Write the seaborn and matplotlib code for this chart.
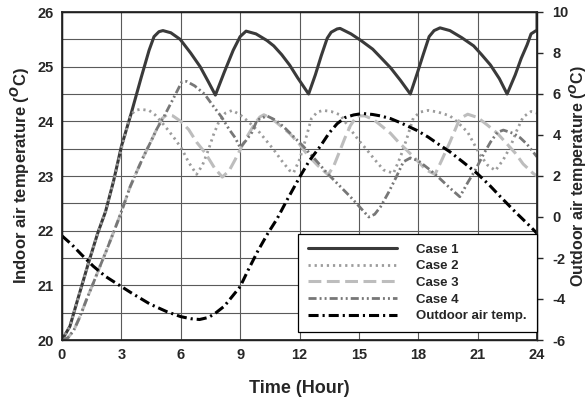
import numpy as np
import pandas as pd
import matplotlib
matplotlib.use("Agg")
import matplotlib.pyplot as plt
import seaborn as sns

# hours / indoor temperature (left axis)
t_case1 = [0, 0.4, 0.8, 1.33, 1.8, 2.2, 2.6, 3.0, 3.5, 4.0, 4.4, 4.65, 4.9, 5.1, 5.5,
           5.97, 6.5, 6.98, 7.4, 7.75, 8.2, 8.65, 9.0, 9.3, 9.8, 10.35, 10.7, 11.1, 11.5,
           11.9, 12.46, 12.8, 13.1, 13.4, 13.6, 13.9, 14.05, 14.6, 15.1, 15.7, 16.1, 16.6,
           17.1, 17.6, 17.95, 18.25, 18.55, 18.8, 19.1, 19.6, 20.2, 20.8, 21.2, 21.65,
           22.1, 22.49, 22.9, 23.2, 23.5, 23.7, 24.0, 24.0]
T_case1 = [20.0, 20.25, 20.75, 21.4, 21.95, 22.35, 22.9, 23.54, 24.15, 24.8, 25.3, 25.55,
           25.64, 25.66, 25.62, 25.5, 25.25, 25.0, 24.72, 24.48, 24.9, 25.3, 25.55, 25.65,
           25.6, 25.48, 25.38, 25.22, 25.03, 24.8, 24.5, 24.85, 25.2, 25.52, 25.63, 25.69,
           25.7, 25.6, 25.48, 25.32, 25.17, 24.98, 24.75, 24.5, 24.88, 25.22, 25.55, 25.66,
           25.71, 25.66, 25.53, 25.38, 25.22, 25.03, 24.78, 24.5, 24.85, 25.15, 25.4, 25.6,
           25.67, 26.0]

t_case2 = [0, 0.4, 0.8, 1.33, 1.8, 2.2, 2.6, 3.0, 3.44, 3.7, 3.95, 4.4, 4.7, 5.0, 5.36,
           5.7, 6.05, 6.4, 6.8, 7.1, 7.4, 7.65, 7.9, 8.25, 8.6, 9.0, 9.4, 10.0, 10.7, 11.1,
           11.5, 11.7, 12.0, 12.3, 12.6, 12.9, 13.2, 13.6, 14.05, 14.6, 15.0, 15.4, 15.8,
           16.25, 16.75, 17.1, 17.4, 17.75, 18.1, 18.5, 19.0, 19.6, 20.0, 20.5, 21.1, 21.5,
           21.9, 22.3, 22.66, 23.0, 23.3, 23.7, 24.0]
T_case2 = [20.0, 20.25, 20.75, 21.4, 21.95, 22.35, 22.9, 23.5, 24.1, 24.2, 24.22, 24.2,
           24.12, 24.0, 23.84, 23.68, 23.5, 23.25, 23.03, 23.2, 23.48, 23.75, 23.97, 24.15,
           24.2, 24.12, 24.0, 23.79, 23.48, 23.28, 23.1, 23.06, 23.3, 23.66, 24.05, 24.17,
           24.2, 24.18, 24.12, 23.84, 23.65, 23.48, 23.3, 23.11, 23.05, 23.35, 23.66, 24.06,
           24.17, 24.2, 24.17, 24.1, 23.98, 23.8, 23.4, 23.2, 23.1, 23.3, 23.54, 23.85,
           24.08, 24.18, 24.15]

t_case3 = [0, 0.3, 0.6, 0.91, 1.25, 1.58, 1.9, 2.26, 2.55, 2.85, 3.15, 3.44, 3.8, 4.11,
           4.45, 4.79, 5.05, 5.3, 5.6, 6.0, 6.4, 6.8, 7.24, 7.7, 8.1, 8.45, 8.75, 9.1, 9.4,
           9.76, 10.0, 10.2, 10.6, 11.0, 11.5, 12.0, 12.4, 12.9, 13.45, 13.75, 14.06, 14.3,
           14.57, 14.9, 15.3, 15.75, 16.2, 16.6, 17.0, 17.4, 17.9, 18.4, 18.85, 19.2, 19.6,
           20.1, 20.5, 21.0, 21.5, 22.0, 22.5, 22.9, 23.3, 23.8, 24.0]
T_case3 = [20.0, 20.04, 20.18, 20.43, 20.75, 21.04, 21.33, 21.65, 21.92, 22.2, 22.5, 22.8,
           23.1, 23.35, 23.6, 23.86, 24.05, 24.12, 24.1, 24.0, 23.85, 23.62, 23.42, 23.15,
           22.98, 23.1, 23.3, 23.55, 23.75, 23.97, 24.08, 24.12, 24.05, 23.93, 23.78, 23.58,
           23.39, 23.2, 23.02, 23.2, 23.48, 23.7, 23.92, 24.1, 24.1, 24.03, 23.9, 23.78,
           23.62, 23.48, 23.3, 23.11, 23.03, 23.3, 23.62, 24.05, 24.13, 24.07, 23.93, 23.78,
           23.58, 23.42, 23.22, 23.05, 23.0]

t_case4 = [0, 0.3, 0.6, 0.91, 1.25, 1.58, 1.9, 2.26, 2.55, 2.85, 3.15, 3.44, 3.8, 4.11,
           4.45, 4.79, 5.2, 5.63, 6.05, 6.3, 6.7, 7.2, 7.6, 8.08, 8.45, 8.75, 9.0, 9.3, 9.6,
           9.85, 10.35, 10.8, 11.2, 11.7, 12.2, 12.8, 13.4, 14.0, 14.57, 15.0, 15.5, 15.8,
           16.1, 16.5, 16.9, 17.25, 17.6, 18.0, 18.6, 19.1, 19.6, 20.1, 20.5, 20.9, 21.3,
           21.65, 22.0, 22.3, 22.8, 23.15, 23.5, 24.0]
T_case4 = [20.0, 20.04, 20.18, 20.43, 20.75, 21.04, 21.33, 21.65, 21.92, 22.2, 22.5, 22.8,
           23.1, 23.35, 23.6, 23.86, 24.12, 24.42, 24.72, 24.73, 24.65, 24.5, 24.3, 24.07,
           23.85, 23.7, 23.52, 23.65, 23.8, 24.02, 24.1, 24.02, 23.9, 23.72, 23.54, 23.3,
           23.05, 22.83, 22.62, 22.45, 22.25, 22.3, 22.44, 22.7, 22.99, 23.26, 23.33, 23.28,
           23.11, 22.95, 22.78, 22.62, 22.88, 23.12, 23.4, 23.62, 23.8, 23.84, 23.78, 23.7,
           23.58, 23.35]

# outdoor temperature (right axis)
t_out = [0, 0.5, 1.0, 1.58, 2.2, 2.93, 3.5, 4.45, 5.3, 6.0, 6.5, 6.95, 7.4, 7.74, 8.2,
         8.58, 9.0, 9.4, 9.9, 10.4, 10.86, 11.37, 12.04, 12.5, 13.05, 13.5, 13.9, 14.3,
         14.74, 15.2, 15.7, 16.1, 16.6, 17.1, 17.5, 17.94, 18.5, 19.1, 19.6, 20.3, 20.97,
         21.6, 22.15, 22.9, 23.67, 24.0]
T_out = [-0.92, -1.35, -1.85, -2.4, -2.9, -3.35, -3.7, -4.25, -4.62, -4.86, -4.96, -5.0,
         -4.9, -4.7, -4.35, -3.9, -3.4, -2.6, -1.65, -0.8, -0.1, 0.83, 2.0, 2.75, 3.45, 4.1,
         4.55, 4.85, 4.98, 5.05, 5.0, 4.93, 4.8, 4.6, 4.42, 4.22, 3.9, 3.5, 3.18, 2.65,
         2.13, 1.55, 0.99, 0.25, -0.47, -0.8]

x_ticks = [0, 3, 6, 9, 12, 15, 18, 21, 24]

sns.set_theme(style="white")
plt.rcParams["font.family"] = ["Liberation Sans", "DejaVu Sans"]
plt.rcParams["font.weight"] = "bold"
plt.rcParams["axes.unicode_minus"] = False
plt.rcParams["mathtext.fontset"] = "custom"
plt.rcParams["mathtext.rm"] = "Liberation Sans:bold"
plt.rcParams["mathtext.bf"] = "Liberation Sans:bold"

fig = plt.figure(figsize=(5.88, 4.0), dpi=100)
ax = fig.add_axes([62 / 588, 60 / 400, 475 / 588, 328 / 400])

styles = [
    ("Case 1", t_case1, T_case1, dict(color="#3a3a3a", lw=2.2, linestyle="-")),
    ("Case 2", t_case2, T_case2, dict(color="#9c9c9c", lw=2.0, linestyle=(0, (0.8, 1.4)))),
    ("Case 3", t_case3, T_case3, dict(color="#bdbdbd", lw=2.2, linestyle=(0, (4.2, 1.8)))),
    ("Case 4", t_case4, T_case4,
     dict(color="#777777", lw=2.0, linestyle=(0, (2.9, 1.1, 0.7, 1.1, 0.7, 1.1)))),
]
for name, tt, vv, kw in styles:
    df = pd.DataFrame({"t": tt, "T": vv})
    sns.lineplot(data=df, x="t", y="T", ax=ax, estimator=None, sort=False,
                 label=name, legend=False, **kw)

ax.set_xlim(0, 24)
ax.set_ylim(20, 26)
ax.set_xticks(x_ticks)
ax.set_yticks(range(20, 27))
ax.set_yticks(np.arange(20, 26.01, 0.5), minor=True)
ax.grid(True, which="both", color="#5a5a5a", lw=0.8)
ax.grid(False, axis="x", which="minor")
ax.set_axisbelow(True)
for s in ax.spines.values():
    s.set_color("black")
    s.set_linewidth(1.0)
ax.tick_params(axis="both", which="major", labelsize=10.5, length=0, pad=6)
ax.tick_params(axis="y", which="minor", length=0)
ax.set_xlabel("Time (Hour)", fontsize=13, fontweight="bold", labelpad=13)
ax.set_ylabel(r"Indoor air temperature ($^{O}$C)", fontsize=12, fontweight="bold", labelpad=4)

ax2 = ax.twinx()
df_out = pd.DataFrame({"t": t_out, "T": T_out})
sns.lineplot(data=df_out, x="t", y="T", ax=ax2, estimator=None, sort=False,
             color="black", lw=2.2, linestyle=(0, (3.3, 1.3, 0.7, 1.3)),
             label="Outdoor air temp.", legend=False)
ax2.set_ylim(-6, 10)
ax2.set_yticks(range(-6, 11, 2))
ax2.tick_params(axis="y", labelsize=10.5, length=4, width=1, direction="out", pad=7)
ax2.set_ylabel(r"Outdoor air temperature ($^{O}$C)", fontsize=11.5, fontweight="bold",
               labelpad=-1)
ax2.set_xlim(0, 24)

handles = ax.get_lines()[:4] + ax2.get_lines()[:1]
labels = [h.get_label() for h in handles]
leg = ax2.legend(handles, labels, loc="lower right", bbox_to_anchor=(1.0, 0.024),
                 borderaxespad=0, fontsize=9.5, handlelength=6.7, handletextpad=1.5,
                 labelspacing=0.33, frameon=True, fancybox=False, framealpha=1,
                 edgecolor="black", borderpad=0.75)
leg.get_frame().set_linewidth(0.9)
for txt in leg.get_texts():
    txt.set_fontweight("bold")

plt.savefig("out.png", dpi=100)
